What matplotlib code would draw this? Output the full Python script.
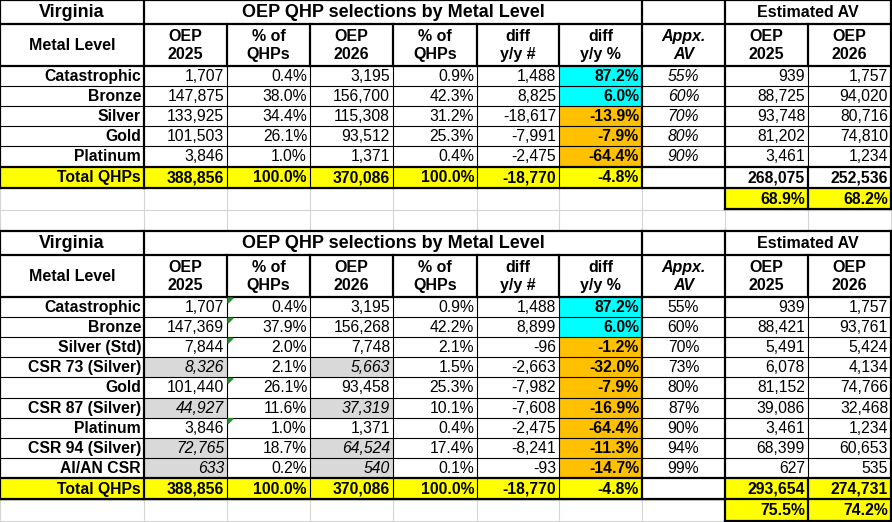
import matplotlib
matplotlib.use("Agg")
import matplotlib.pyplot as plt
from matplotlib.patches import Rectangle, Polygon

plt.rcParams['font.family'] = ['Liberation Sans', 'DejaVu Sans']

# ---- data: top table (metal levels only) ----
state = "Virginia"
title = "OEP QHP selections by Metal Level"
headers = ["Metal Level", "OEP\n2025", "% of\nQHPs", "OEP\n2026", "% of\nQHPs",
           "diff\ny/y #", "diff\ny/y %", "Appx.\nAV", "OEP\n2025", "OEP\n2026"]

levels_a = ["Catastrophic", "Bronze", "Silver", "Gold", "Platinum"]
oep25_a = [1707, 147875, 133925, 101503, 3846]
pct25_a = [0.4, 38.0, 34.4, 26.1, 1.0]
oep26_a = [3195, 156700, 115308, 93512, 1371]
pct26_a = [0.9, 42.3, 31.2, 25.3, 0.4]
diff_a = [1488, 8825, -18617, -7991, -2475]
diffpct_a = [87.2, 6.0, -13.9, -7.9, -64.4]
av_a = [55, 60, 70, 80, 90]
est25_a = [939, 88725, 93748, 81202, 3461]
est26_a = [1757, 94020, 80716, 74810, 1234]
est_total_a = [268075, 252536]
est_pct_a = [68.9, 68.2]

# ---- data: bottom table (with CSR breakdown) ----
levels_b = ["Catastrophic", "Bronze", "Silver (Std)", "CSR 73 (Silver)", "Gold",
            "CSR 87 (Silver)", "Platinum", "CSR 94 (Silver)", "AI/AN CSR"]
oep25_b = [1707, 147369, 7844, 8326, 101440, 44927, 3846, 72765, 633]
pct25_b = [0.4, 37.9, 2.0, 2.1, 26.1, 11.6, 1.0, 18.7, 0.2]
oep26_b = [3195, 156268, 7748, 5663, 93458, 37319, 1371, 64524, 540]
pct26_b = [0.9, 42.2, 2.1, 1.5, 25.3, 10.1, 0.4, 17.4, 0.1]
diff_b = [1488, 8899, -96, -2663, -7982, -7608, -2475, -8241, -93]
diffpct_b = [87.2, 6.0, -1.2, -32.0, -7.9, -16.9, -64.4, -11.3, -14.7]
av_b = [55, 60, 70, 73, 80, 87, 90, 94, 99]
est25_b = [939, 88421, 5491, 6078, 81152, 39086, 3461, 68399, 627]
est26_b = [1757, 93761, 5424, 4134, 74766, 32468, 1234, 60653, 535]
est_total_b = [293654, 274731]
est_pct_b = [75.5, 74.2]
csr_rows_b = [3, 5, 7, 8]
flag_rows_b = [0, 1, 2, 4, 6]

total_label = "Total QHPs"
totals = [388856, 100.0, 370086, 100.0, -18770, -4.8]

YELLOW = "#ffff00"
CYAN = "#00ffff"
ORANGE = "#ffc000"
GRAYFILL = "#d9d9d9"
GRID = "#d4d4d4"

# column edges: Metal | OEP25 | % | OEP26 | % | diff# | diff% | AV | est25 | est26
cols = [0, 144, 227, 310, 393, 477, 559, 642, 725, 808, 891]
FS = 11.3
THIN, THICK = 0.8, 1.6

fig = plt.figure(figsize=(8.92, 5.22), dpi=100)
ax = fig.add_axes([0, 0, 1, 1])
ax.set_xlim(0, 892)
ax.set_ylim(522, 0)
ax.axis("off")

# spreadsheet gridlines in the background
for x in cols:
    ax.plot([x, x], [0, 522], color=GRID, lw=0.8, zorder=0)
for y in [188, 209.5, 231, 499.5, 521]:
    ax.plot([0, 891], [y, y], color=GRID, lw=0.8, zorder=0)


def hline(x0, x1, y, lw):
    ax.plot([x0, x1], [y, y], color="black", lw=lw, zorder=3, solid_capstyle="projecting")


def vline(x, y0, y1, lw):
    ax.plot([x, x], [y0, y1], color="black", lw=lw, zorder=3, solid_capstyle="projecting")


def cell(c0, c1, y0, y1, text="", fill="white", ha="right", bold=False,
         italic=False, fs=FS):
    x0, x1 = cols[c0], cols[c1]
    ax.add_patch(Rectangle((x0, y0), x1 - x0, y1 - y0, facecolor=fill,
                           edgecolor="none", zorder=1))
    if text == "":
        return
    if ha == "right":
        tx = x1 - 3
    else:
        tx = (x0 + x1) / 2
    ax.text(tx, (y0 + y1) / 2 + 0.5, text, ha=ha, va="center", fontsize=fs,
            fontweight="bold" if bold else "normal",
            fontstyle="italic" if italic else "normal",
            linespacing=1.25, zorder=4)


def draw_table(top, levels, o25, p25, o26, p26, dif, difp, av, e25, e26,
               etot, epct, av_italic, csr_rows, flag_rows, data_h, tot_fill):
    t_h, h_h, tot_h, pct_h = 23.5, 42.5, 21.3, 21.5
    y_head = top + t_h
    y_data = y_head + h_h
    n = len(levels)
    y_tot = y_data + n * data_h
    y_pct = y_tot + tot_h
    y_end = y_pct + pct_h

    # title row
    cell(0, 1, top, y_head, state, ha="center", bold=True, fs=13)
    cell(1, 7, top, y_head, title, ha="center", bold=True, fs=13)
    cell(7, 8, top, y_head)
    cell(8, 10, top, y_head, "Estimated AV", ha="center", bold=True, fs=11.5)

    # header row
    for i, h in enumerate(headers):
        cell(i, i + 1, y_head, y_data, h, ha="center", bold=True, fs=11.5,
             italic=(i == 7))

    # data rows
    for r in range(n):
        y0 = y_data + r * data_h
        y1 = y0 + data_h
        shade = r in csr_rows
        cell(0, 1, y0, y1, levels[r], bold=True)
        cell(1, 2, y0, y1, f"{o25[r]:,}", fill=GRAYFILL if shade else "white", italic=shade)
        cell(2, 3, y0, y1, f"{p25[r]:.1f}%")
        cell(3, 4, y0, y1, f"{o26[r]:,}", fill=GRAYFILL if shade else "white", italic=shade)
        cell(4, 5, y0, y1, f"{p26[r]:.1f}%")
        cell(5, 6, y0, y1, f"{dif[r]:,}")
        cell(6, 7, y0, y1, f"{difp[r]:.1f}%", fill=CYAN if difp[r] > 0 else ORANGE, bold=True)
        cell(7, 8, y0, y1, f"{av[r]}%", ha="center", italic=av_italic)
        cell(8, 9, y0, y1, f"{e25[r]:,}")
        cell(9, 10, y0, y1, f"{e26[r]:,}")
        if r in flag_rows:
            x = cols[2] + 1
            ax.add_patch(Polygon([(x, y0 + 1), (x + 5, y0 + 1), (x, y0 + 6)],
                                 closed=True, color="#2e8b2e", zorder=5))
        if r > 0:
            hline(cols[0], cols[10], y0, THIN)

    # total row
    cell(0, 1, y_tot, y_pct, total_label, fill=YELLOW, bold=True)
    fmt = [f"{totals[0]:,}", f"{totals[1]:.1f}%", f"{totals[2]:,}",
           f"{totals[3]:.1f}%", f"{totals[4]:,}", f"{totals[5]:.1f}%"]
    for i, s in enumerate(fmt):
        cell(i + 1, i + 2, y_tot, y_pct, s, fill=YELLOW, bold=True)
    cell(7, 8, y_tot, y_pct)
    cell(8, 9, y_tot, y_pct, f"{etot[0]:,}", fill=tot_fill, bold=True)
    cell(9, 10, y_tot, y_pct, f"{etot[1]:,}", fill=tot_fill, bold=True)

    # AV percentage row
    cell(8, 9, y_pct, y_end, f"{epct[0]:.1f}%", fill=YELLOW, bold=True)
    cell(9, 10, y_pct, y_end, f"{epct[1]:.1f}%", fill=YELLOW, bold=True)

    # borders
    hline(cols[0], cols[10], top, THICK)
    hline(cols[0], cols[10], y_head, THICK)
    hline(cols[0], cols[10], y_data, THICK)
    hline(cols[0], cols[10], y_tot, THICK)
    hline(cols[0], cols[10], y_pct, THICK)
    hline(cols[8], cols[10], y_end, THICK)
    for c in [0, 1, 7, 8, 10]:
        vline(cols[c], top, y_pct, THICK)
    for c in [2, 3, 4, 5, 6]:
        vline(cols[c], y_head, y_data, THICK)
        vline(cols[c], y_data, y_pct, THIN)
    vline(cols[9], y_head, y_data, THICK)
    vline(cols[9], y_data, y_tot, THIN)
    vline(cols[9], y_tot, y_end, THICK)
    vline(cols[8], y_pct, y_end, THICK)
    vline(cols[10], y_pct, y_end, THICK)


draw_table(0, levels_a, oep25_a, pct25_a, oep26_a, pct26_a, diff_a, diffpct_a,
           av_a, est25_a, est26_a, est_total_a, est_pct_a, True, [], [], 20.1, "white")
draw_table(231, levels_b, oep25_b, pct25_b, oep26_b, pct26_b, diff_b, diffpct_b,
           av_b, est25_b, est26_b, est_total_b, est_pct_b, False, csr_rows_b,
           flag_rows_b, 20.1, YELLOW)

fig.savefig("out.png", dpi=100, facecolor="white")
